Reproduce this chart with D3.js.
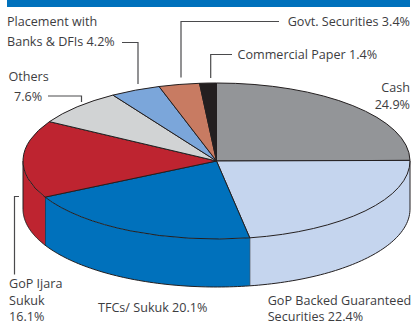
<!DOCTYPE html>
<html>
<head>
<meta charset="utf-8">
<script src="https://cdn.jsdelivr.net/npm/d3@7/dist/d3.min.js"></script>
<style>
html,body{margin:0;padding:0;background:#fff;}
svg{display:block;}
text{font-family:"Open Sans",sans-serif;font-size:12.6px;fill:#3d3d3f;}
</style>
</head>
<body>
<svg id="chart" width="412" height="325"></svg>
<script>
// Portfolio shares, clockwise from twelve o'clock
const categories = ["Cash","GoP Backed Guaranteed Securities","TFCs/ Sukuk","GoP Ijara Sukuk","Others","Placement with Banks & DFIs","Govt. Securities","Commercial Paper"];
const shares = [24.9,22.4,20.1,16.1,7.6,4.2,3.4,1.4];
const colors = ["#939598","#c5d5ee","#0071bc","#be2430","#d1d3d4","#7ba6da","#c87b62","#231f20"];

// Callout text: [string, x, baseline, anchor]
const labels = [
  ["Placement with",7,26,"start"],
  ["Banks & DFIs 4.2%",7,46,"start"],
  ["Others",8.5,81,"start"],
  ["7.6%",14,101,"start"],
  ["Govt. Securities 3.4%",410,25.7,"end"],
  ["Commercial Paper 1.4%",237.5,58.7,"start"],
  ["Cash",410,92,"end"],
  ["24.9%",410,109,"end"],
  ["GoP Ijara",9,288,"start"],
  ["Sukuk",9,304.8,"start"],
  ["16.1%",9,321.2,"start"],
  ["TFCs/ Sukuk 20.1%",98,312,"start"],
  ["GoP Backed Guaranteed",267.7,304.8,"start"],
  ["Securities 22.4%",267.7,321.2,"start"]
];
// Elbow leaders
const leaders = [
  [[122,42.5],[138,42.5],[138,84]],
  [[48,96],[81.5,96],[81.5,102]],
  [[279,21.5],[181,21.5],[181,77.5]],
  [[232,54.5],[210.7,54.5],[210.7,78]],
  [[19,196.5],[14.5,196.5],[14.5,274.5]]
];

const svg = d3.select("#chart");
const cx = 216.5, cy = 161, rx = 193.5, ry = 78, depth = 48;

svg.append("rect").attr("x",7).attr("y",0).attr("width",403).attr("height",7).attr("fill","#0071bc");

const pie = d3.pie().sort(null).value(d => d)(shares);
const outline = "#231f20";

// Point on the rim at a clockwise angle from the top, optionally dropped to the base
const rim = (a, drop = 0) => [cx + rx * Math.sin(a), cy - ry * Math.cos(a) + drop];
const line = d3.line();

// Front wall: only the part of each slice that faces the viewer
const frontStart = Math.PI / 2, frontEnd = 3 * Math.PI / 2;
const walls = svg.append("g");
pie.forEach((s, i) => {
  const a0 = Math.max(s.startAngle, frontStart), a1 = Math.min(s.endAngle, frontEnd);
  if (a1 <= a0) return;
  const steps = d3.range(0, 61).map(k => a0 + (a1 - a0) * k / 60);
  const pts = steps.map(a => rim(a)).concat(steps.slice().reverse().map(a => rim(a, depth)));
  walls.append("path").attr("d", line(pts) + "Z")
    .attr("fill", colors[i]).attr("stroke","none");
  // Vertical seam and lower rim
  walls.append("path").attr("d", line(steps.map(a => rim(a, depth))))
    .attr("fill","none").attr("stroke",outline).attr("stroke-width",1);
  if (a1 < frontEnd) {
    walls.append("path").attr("d", line([rim(a1), rim(a1, depth)]))
      .attr("fill","none").attr("stroke",outline).attr("stroke-width",1);
  }
});
// Silhouette edges at both ends of the wall
[frontStart, frontEnd].forEach(a => {
  walls.append("path").attr("d", line([rim(a), rim(a, depth)]))
    .attr("fill","none").attr("stroke",outline).attr("stroke-width",1);
});

// Top face: a circular pie squashed into an ellipse
const arc = d3.arc().innerRadius(0).outerRadius(rx);
svg.append("g")
  .attr("transform", `translate(${cx},${cy}) scale(1,${ry / rx})`)
  .selectAll("path").data(pie).join("path")
  .attr("d", arc)
  .attr("fill", (d, i) => colors[i])
  .attr("stroke", outline)
  .attr("stroke-width", 1)
  .attr("vector-effect", "non-scaling-stroke");

svg.append("g").selectAll("path").data(leaders).join("path")
  .attr("d", d => line(d))
  .attr("fill","none").attr("stroke","#4a4a4c").attr("stroke-width",1.2);

svg.append("g").selectAll("text").data(labels).join("text")
  .attr("x", d => d[1]).attr("y", d => d[2]).attr("text-anchor", d => d[3])
  .text(d => d[0]);
</script>
</body>
</html>
